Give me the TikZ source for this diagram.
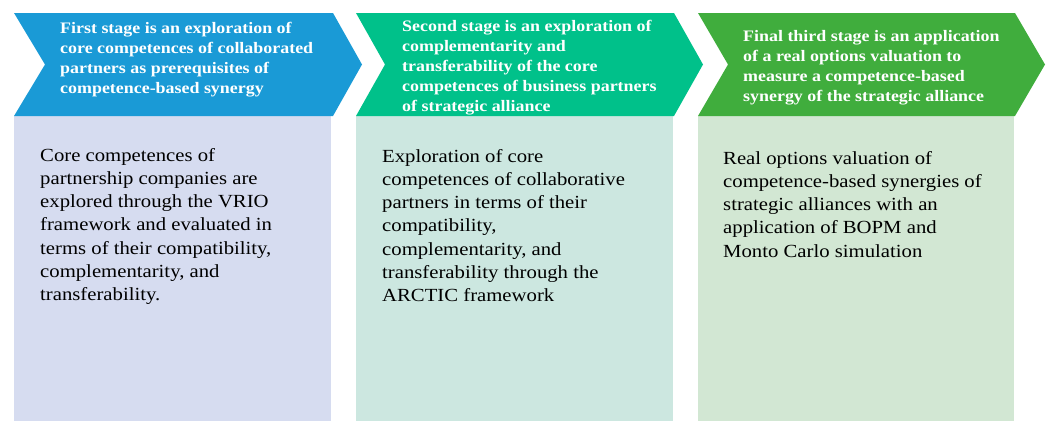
\documentclass[tikz,border=0pt]{standalone}
\usepackage{fontspec}
\setmainfont[FakeStretch=1.12]{Liberation Serif}
\definecolor{cblue}{HTML}{1A9AD6}
\definecolor{cteal}{HTML}{00C18A}
\definecolor{cgreen}{HTML}{40AD3D}
\definecolor{pblue}{HTML}{D6DCF0}
\definecolor{pteal}{HTML}{CCE7E0}
\definecolor{pgreen}{HTML}{D2E7D3}
\begin{document}
\begin{tikzpicture}[x=1pt,y=-1pt,
  headtext/.style={anchor=north west,inner sep=0pt,align=left,text=white,
    font=\fontsize{16}{20}\selectfont\bfseries},
  bodytext/.style={anchor=north west,inner sep=0pt,align=left,text=black,
    font=\fontsize{18.5}{23.2}\selectfont}]
\useasboundingbox (0,0) rectangle (1049,421);
% panels
\fill[pblue]  (14,116) rectangle (331,421);
\fill[pteal]  (356,116) rectangle (673,421);
\fill[pgreen] (698,116) rectangle (1014,421);
% chevrons
\fill[cblue]  (14,13) -- (333,13) -- (362,64.5) -- (333,116) -- (14,116) -- (45,64.5) -- cycle;
\fill[cteal]  (356,13) -- (674,13) -- (703,64.5) -- (674,116) -- (356,116) -- (385,64.5) -- cycle;
\fill[cgreen] (698,13) -- (1015,13) -- (1045,64.5) -- (1015,116) -- (698,116) -- (728,64.5) -- cycle;
% header texts
\node[headtext] (h1) at (60,22) {First stage is an exploration of\\core competences of collaborated\\partners as prerequisites of\\competence-based synergy};
\node[headtext] (h2) at (402,20) {Second stage is an exploration of\\complementarity and\\transferability of the core\\competences of business partners\\of strategic alliance};
\node[headtext] (h3) at (743,30) {Final third stage is an application\\of a real options valuation to\\measure a competence-based\\synergy of the strategic alliance};
% body texts
\node[bodytext] (b1) at (40,148) {Core competences of\\partnership companies are\\explored through the VRIO\\framework and evaluated in\\terms of their compatibility,\\complementarity, and\\transferability.};
\node[bodytext] (b2) at (382,149) {Exploration of core\\competences of collaborative\\partners in terms of their\\compatibility,\\complementarity, and\\transferability through the\\ARCTIC framework};
\node[bodytext] (b3) at (723,151) {Real options valuation of\\competence-based synergies of\\strategic alliances with an\\application of BOPM and\\Monto Carlo simulation};
\end{tikzpicture}
\end{document}
